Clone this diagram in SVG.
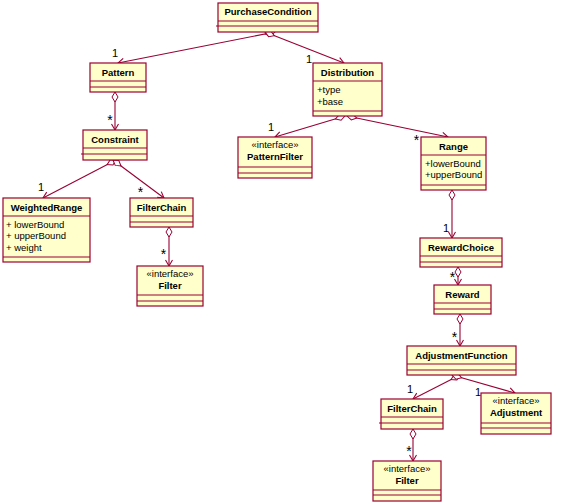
<svg xmlns="http://www.w3.org/2000/svg" width="576" height="504" viewBox="0 0 576 504">
<style>
.box{fill:#FFFFCC;stroke:#990033;stroke-width:1.2}
.div{stroke:#990033;stroke-width:1.2}
.n{font-family:"Liberation Sans",Arial,sans-serif;font-size:9.5px;font-weight:bold;fill:#000;text-anchor:middle}
.s{font-family:"Liberation Sans",Arial,sans-serif;font-size:9.5px;fill:#000;text-anchor:middle}
.a{font-family:"Liberation Sans",Arial,sans-serif;font-size:9.5px;fill:#000}
.m{font-family:"Liberation Sans",Arial,sans-serif;font-size:11px;fill:#000;text-anchor:middle}
.st{font-family:"Liberation Sans",Arial,sans-serif;font-size:14px;fill:#000;text-anchor:middle}
.c{fill:none;stroke:#990033;stroke-width:1.1;marker-start:url(#dia);marker-end:url(#arr)}
</style>
<defs>
<marker id="dia" markerUnits="userSpaceOnUse" markerWidth="12" markerHeight="8" refX="0" refY="0" orient="auto" overflow="visible">
<path d="M0,0 L5,-3 L10,0 L5,3 Z" fill="#fff" stroke="#990033" stroke-width="1"/>
</marker>
<marker id="arr" markerUnits="userSpaceOnUse" markerWidth="8" markerHeight="8" refX="0" refY="0" orient="auto" overflow="visible">
<path d="M-6,-3.5 L0,0 L-6,3.5" fill="none" stroke="#990033" stroke-width="1.1"/>
</marker>
</defs>
<rect width="576" height="504" fill="#fff"/>

<g id="connectors">
<path class="c" d="M275,32 L118,63"/>
<path class="c" d="M265,32 L344,63"/>
<path class="c" d="M115,92 L115,130"/>
<path class="c" d="M116,160 L43,198"/>
<path class="c" d="M113,160 L164,198"/>
<path class="c" d="M169,227 L169,266"/>
<path class="c" d="M345,116 L275,137"/>
<path class="c" d="M347,116 L448,137"/>
<path class="c" d="M452,190 L452,238"/>
<path class="c" d="M458,267 L458,285"/>
<path class="c" d="M460,314 L460,346"/>
<path class="c" d="M460,375 L413,399"/>
<path class="c" d="M452,375 L515,393"/>
<path class="c" d="M413,429 L413,461"/>
<g id="labels">
<text class="m" x="115" y="56.5">1</text>
<text class="st" x="110" y="125">*</text>
<text class="m" x="309" y="63">1</text>
<text class="m" x="271" y="130.5">1</text>
<text class="st" x="416.5" y="144.5">*</text>
<text class="m" x="41" y="190.5">1</text>
<text class="st" x="140.5" y="197">*</text>
<text class="st" x="163.5" y="259">*</text>
<text class="m" x="446" y="231.5">1</text>
<text class="st" x="452.5" y="282">*</text>
<text class="st" x="454.5" y="342">*</text>
<text class="m" x="410" y="392.5">1</text>
<text class="m" x="478" y="396">1</text>
<text class="st" x="409" y="456">*</text>
</g>
</g>

<g id="PurchaseCondition">
<rect class="box" x="218" y="3" width="100" height="29"/>
<line class="div" x1="218" y1="21" x2="318" y2="21"/>
<line class="div" x1="216" y1="26" x2="318" y2="26"/>
<text class="n" x="268" y="15">PurchaseCondition</text>
</g>

<g id="Pattern">
<rect class="box" x="90" y="63" width="56" height="29"/>
<line class="div" x1="90" y1="81" x2="146" y2="81"/>
<line class="div" x1="90" y1="87" x2="146" y2="87"/>
<text class="n" x="118" y="75.5">Pattern</text>
</g>

<g id="Distribution">
<rect class="box" x="313" y="63" width="69" height="53"/>
<line class="div" x1="313" y1="81" x2="382" y2="81"/>
<line class="div" x1="313" y1="111" x2="382" y2="111"/>
<text class="n" x="347.5" y="75.5">Distribution</text>
<text class="a" x="317" y="93">+type</text>
<text class="a" x="317" y="104.5">+base</text>
</g>

<g id="Constraint">
<rect class="box" x="83" y="130" width="64" height="30"/>
<line class="div" x1="83" y1="148" x2="147" y2="148"/>
<line class="div" x1="81" y1="154" x2="147" y2="154"/>
<text class="n" x="115" y="142.5">Constraint</text>
</g>

<g id="PatternFilter">
<rect class="box" x="238" y="137" width="74" height="41"/>
<line class="div" x1="238" y1="167" x2="312" y2="167"/>
<line class="div" x1="238" y1="173" x2="312" y2="173"/>
<text class="s" x="275" y="148">«interface»</text>
<text class="n" x="275" y="160">PatternFilter</text>
</g>

<g id="Range">
<rect class="box" x="421" y="137" width="65" height="53"/>
<line class="div" x1="421" y1="155" x2="486" y2="155"/>
<line class="div" x1="421" y1="185" x2="486" y2="185"/>
<text class="n" x="453.5" y="149.5">Range</text>
<text class="a" x="425" y="166.5">+lowerBound</text>
<text class="a" x="425" y="177.5">+upperBound</text>
</g>

<g id="WeightedRange">
<rect class="box" x="3" y="198" width="87" height="64"/>
<line class="div" x1="3" y1="216" x2="90" y2="216"/>
<line class="div" x1="3" y1="257" x2="90" y2="257"/>
<text class="n" x="46.5" y="210.5">WeightedRange</text>
<text class="a" x="6" y="227.5">+ lowerBound</text>
<text class="a" x="6" y="239">+ upperBound</text>
<text class="a" x="6" y="250.5">+ weight</text>
</g>

<g id="FilterChain">
<rect class="box" x="130" y="198" width="63" height="29"/>
<line class="div" x1="130" y1="216" x2="193" y2="216"/>
<line class="div" x1="130" y1="222" x2="193" y2="222"/>
<text class="n" x="161.5" y="210.5">FilterChain</text>
</g>

<g id="Filter">
<rect class="box" x="137" y="266" width="66" height="40"/>
<line class="div" x1="137" y1="295" x2="203" y2="295"/>
<line class="div" x1="137" y1="301" x2="203" y2="301"/>
<text class="s" x="170" y="277">«interface»</text>
<text class="n" x="170" y="288.5">Filter</text>
</g>

<g id="RewardChoice">
<rect class="box" x="420" y="238" width="82" height="29"/>
<line class="div" x1="420" y1="256" x2="502" y2="256"/>
<line class="div" x1="420" y1="262" x2="502" y2="262"/>
<text class="n" x="461" y="250.5">RewardChoice</text>
</g>

<g id="Reward">
<rect class="box" x="434" y="285" width="57" height="29"/>
<line class="div" x1="434" y1="303" x2="491" y2="303"/>
<line class="div" x1="434" y1="309" x2="491" y2="309"/>
<text class="n" x="462.5" y="297.5">Reward</text>
</g>

<g id="AdjustmentFunction">
<rect class="box" x="407" y="346" width="109" height="29"/>
<line class="div" x1="407" y1="364" x2="516" y2="364"/>
<line class="div" x1="407" y1="370" x2="516" y2="370"/>
<text class="n" x="461.5" y="358.5">AdjustmentFunction</text>
</g>

<g id="FilterChain2">
<rect class="box" x="381" y="399" width="62" height="30"/>
<line class="div" x1="381" y1="417" x2="443" y2="417"/>
<line class="div" x1="379" y1="423" x2="443" y2="423"/>
<text class="n" x="412" y="411.5">FilterChain</text>
</g>

<g id="Adjustment">
<rect class="box" x="481" y="393" width="70" height="41"/>
<line class="div" x1="481" y1="423" x2="551" y2="423"/>
<line class="div" x1="481" y1="428" x2="551" y2="428"/>
<text class="s" x="516" y="404">«interface»</text>
<text class="n" x="516" y="415.5">Adjustment</text>
</g>

<g id="Filter2">
<rect class="box" x="373" y="461" width="68" height="40"/>
<line class="div" x1="373" y1="490" x2="441" y2="490"/>
<line class="div" x1="373" y1="495" x2="441" y2="495"/>
<text class="s" x="407" y="472">«interface»</text>
<text class="n" x="407" y="483.5">Filter</text>
</g>
</svg>
